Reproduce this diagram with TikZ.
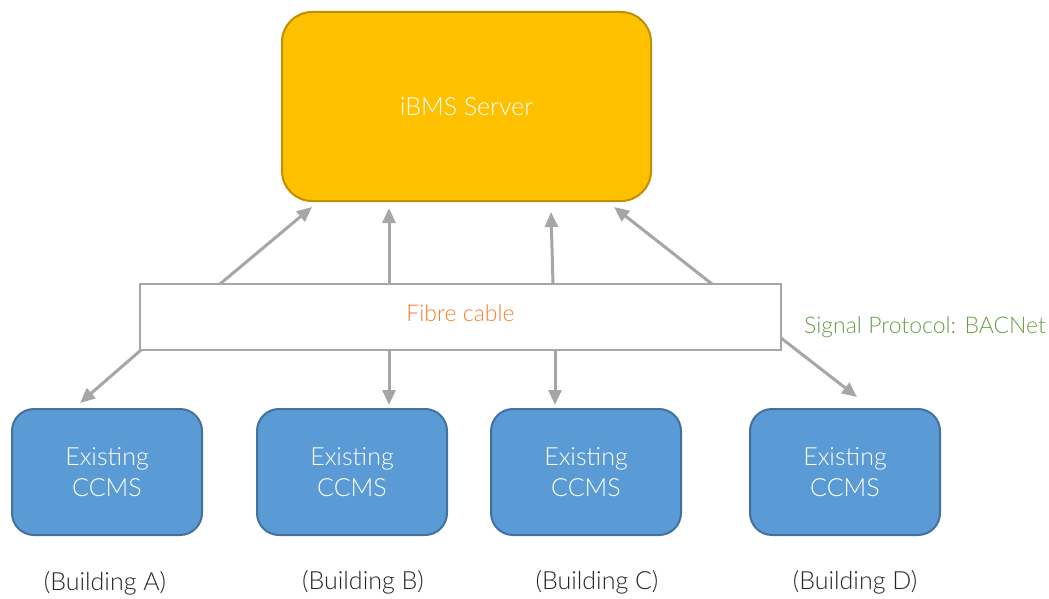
\documentclass[tikz,border=0pt]{standalone}
\usepackage{fontspec}
\setmainfont{Lato}[UprightFont=* Light]
\usetikzlibrary{arrows.meta}
\definecolor{srvfill}{HTML}{FFC000}
\definecolor{srvdraw}{HTML}{BF9000}
\definecolor{blfill}{HTML}{5B9BD5}
\definecolor{bldraw}{HTML}{41719C}
\definecolor{conn}{HTML}{A6A6A6}
\definecolor{orng}{HTML}{F4802F}
\definecolor{grn}{HTML}{6B9E48}
\tikzset{
  server/.style={draw=srvdraw, fill=srvfill, line width=2pt, rounded corners=30pt, minimum width=369pt, minimum height=189pt, text=white, font=\fontsize{25}{28}\selectfont},
  ccms/.style={draw=bldraw, fill=blfill, line width=2pt, rounded corners=22pt, minimum width=190pt, minimum height=126pt, text=white, align=center, font=\fontsize{25}{31}\selectfont},
  cable/.style={draw=conn, fill=white, line width=2.5pt, minimum width=641pt, minimum height=66pt, text=orng, font=\fontsize{23}{26}\selectfont},
  link/.style={draw=conn, line width=3pt, -{Triangle[length=15pt,width=13pt]}},
  bld/.style={text=black!85, font=\fontsize{25}{28}\selectfont},
}
\begin{document}
\begin{tikzpicture}[x=1pt,y=-1pt]
\useasboundingbox (0,0) rectangle (1049,599);
\node[server] (srv) at (466.5,106.5) {iBMS Server};
\node[cable] (fc) at (460.5,317) {\raisebox{8pt}{Fibre cable}};
\node[ccms] (a) at (107,472) {Existing\\CCMS};
\node[ccms] (b) at (352,472) {Existing\\CCMS};
\node[ccms] (c) at (586,472) {Existing\\CCMS};
\node[ccms] (d) at (845,472) {Existing\\CCMS};
\node[bld] (la) at (105,583) {(Building A)};
\node[bld] (lb) at (363,582) {(Building B)};
\node[bld] (lc) at (597,582) {(Building C)};
\node[bld] (ld) at (855,582) {(Building D)};
\node[text=grn, font=\fontsize{23}{26}\selectfont] (sp) at (925,327) {Signal Protocol: BACNet};
% up links
\coordinate (u1s) at (220,284); \coordinate (u1e) at (312,207);
\coordinate (u2s) at (389,284); \coordinate (u2e) at (389,208);
\coordinate (u3s) at (553,284); \coordinate (u3e) at (551,212);
\coordinate (u4s) at (712,284); \coordinate (u4e) at (614,207);
\draw[link] (u1s) -- (u1e);
\draw[link] (u2s) -- (u2e);
\draw[link] (u3s) -- (u3e);
\draw[link] (u4s) -- (u4e);
% down links
\coordinate (d1s) at (141,350); \coordinate (d1e) at (80,403);
\coordinate (d2s) at (389,350); \coordinate (d2e) at (389,405);
\coordinate (d3s) at (555,350); \coordinate (d3e) at (555,405);
\coordinate (d4s) at (781,338); \coordinate (d4e) at (857,397);
\draw[link] (d1s) -- (d1e);
\draw[link] (d2s) -- (d2e);
\draw[link] (d3s) -- (d3e);
\draw[link] (d4s) -- (d4e);
\end{tikzpicture}
\end{document}
